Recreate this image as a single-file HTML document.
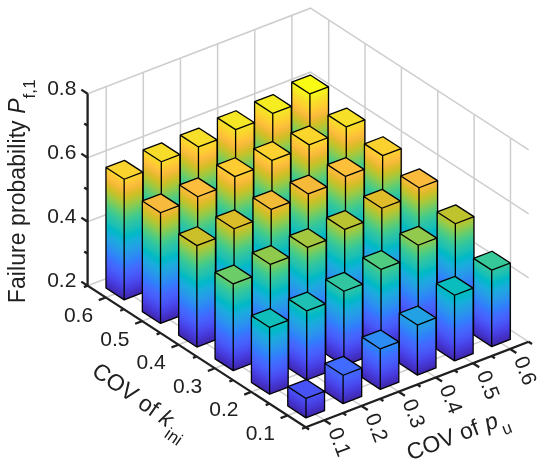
<!DOCTYPE html><html><head><meta charset="utf-8"><title>Failure probability</title><style>html,body{margin:0;padding:0;background:#fff}svg{display:block}</style></head><body><svg width="550" height="467" viewBox="0 0 550 467"><rect width="550" height="467" fill="#fff"/><defs><linearGradient id="pg" gradientUnits="userSpaceOnUse" x1="0" y1="0" x2="0" y2="-192"><stop offset="0" stop-color="#3e26a8"/><stop offset="0.02" stop-color="#422ebe"/><stop offset="0.04" stop-color="#4536d3"/><stop offset="0.06" stop-color="#473fe3"/><stop offset="0.08" stop-color="#484aee"/><stop offset="0.1" stop-color="#4854f6"/><stop offset="0.12" stop-color="#465ffb"/><stop offset="0.15" stop-color="#426afe"/><stop offset="0.17" stop-color="#3875fe"/><stop offset="0.19" stop-color="#2f81fa"/><stop offset="0.21" stop-color="#2d8bf4"/><stop offset="0.23" stop-color="#2995ec"/><stop offset="0.25" stop-color="#249ee6"/><stop offset="0.27" stop-color="#1fa6e1"/><stop offset="0.29" stop-color="#17aeda"/><stop offset="0.31" stop-color="#07b5cf"/><stop offset="0.33" stop-color="#02bac3"/><stop offset="0.35" stop-color="#17bfb6"/><stop offset="0.38" stop-color="#2ac3a9"/><stop offset="0.4" stop-color="#35c79a"/><stop offset="0.42" stop-color="#45cb89"/><stop offset="0.44" stop-color="#5ccc76"/><stop offset="0.46" stop-color="#75cc61"/><stop offset="0.48" stop-color="#91ca4c"/><stop offset="0.5" stop-color="#abc739"/><stop offset="0.52" stop-color="#c4c22b"/><stop offset="0.54" stop-color="#d9bd28"/><stop offset="0.56" stop-color="#ecba32"/><stop offset="0.58" stop-color="#fbbc3d"/><stop offset="0.6" stop-color="#fec636"/><stop offset="0.62" stop-color="#fcd12f"/><stop offset="0.65" stop-color="#f7dd2a"/><stop offset="0.67" stop-color="#f5e924"/><stop offset="0.69" stop-color="#f7f41c"/><stop offset="0.71" stop-color="#f9fb15"/><stop offset="0.73" stop-color="#f9fb15"/><stop offset="0.75" stop-color="#f9fb15"/><stop offset="0.77" stop-color="#f9fb15"/><stop offset="0.79" stop-color="#f9fb15"/><stop offset="0.81" stop-color="#f9fb15"/><stop offset="0.83" stop-color="#f9fb15"/><stop offset="0.85" stop-color="#f9fb15"/><stop offset="0.88" stop-color="#f9fb15"/><stop offset="0.9" stop-color="#f9fb15"/><stop offset="0.92" stop-color="#f9fb15"/><stop offset="0.94" stop-color="#f9fb15"/><stop offset="0.96" stop-color="#f9fb15"/><stop offset="0.98" stop-color="#f9fb15"/><stop offset="1" stop-color="#f9fb15"/></linearGradient></defs><path d="M324.33,420.18L106.17,278.57L106.17,86.57M361.49,405.93L143.32,264.32L143.32,72.32M398.63,391.68L180.47,250.07L180.47,58.07M435.78,377.43L217.62,235.82L217.62,43.82M472.93,363.18L254.77,221.57L254.77,29.57M510.08,348.93L291.92,207.32L291.92,15.32M105.78,297.5L328.68,212L328.68,20M142.14,321.1L365.04,235.6L365.04,43.6M178.5,344.7L401.4,259.2L401.4,67.2M214.86,368.3L437.76,282.8L437.76,90.8M251.22,391.9L474.12,306.4L474.12,114.4M287.58,415.5L510.48,330L510.48,138M87.6,285.7L310.5,200.2L528.66,341.8M87.6,221.7L310.5,136.2L528.66,277.8M87.6,157.7L310.5,72.2L528.66,213.8M87.6,93.7L310.5,8.2L528.66,149.8" fill="none" stroke="#cecece" stroke-width="1.5"/><g stroke="#000" stroke-width="1.3" stroke-linejoin="round"><rect y="-134.62" width="18.18" height="134.62" transform="matrix(1,0.6491,0,1,291.73,216.79)" fill="url(#pg)" stroke="none"/><rect y="-134.62" width="18.57" height="134.62" transform="matrix(1,-0.3836,0,1,309.91,228.59)" fill="url(#pg)" stroke="none"/><path d="M291.73,82.16L309.91,93.96L328.48,86.84L310.3,75.04Z" fill="#f9fb15" stroke="none"/><path d="M291.73,82.16L291.73,216.79L309.91,228.59L328.48,221.46L328.48,86.84L310.3,75.04ZM291.73,82.16L309.91,93.96L328.48,86.84M309.91,93.96L309.91,228.59" fill="none"/><rect y="-129.37" width="18.18" height="129.37" transform="matrix(1,0.6491,0,1,254.58,231.04)" fill="url(#pg)" stroke="none"/><rect y="-129.37" width="18.57" height="129.37" transform="matrix(1,-0.3836,0,1,272.76,242.84)" fill="url(#pg)" stroke="none"/><path d="M254.58,101.66L272.76,113.46L291.33,106.34L273.15,94.54Z" fill="#f5ed22" stroke="none"/><path d="M254.58,101.66L254.58,231.04L272.76,242.84L291.33,235.71L291.33,106.34L273.15,94.54ZM254.58,101.66L272.76,113.46L291.33,106.34M272.76,113.46L272.76,242.84" fill="none"/><rect y="-125.22" width="18.18" height="125.22" transform="matrix(1,0.6491,0,1,328.09,240.39)" fill="url(#pg)" stroke="none"/><rect y="-125.22" width="18.57" height="125.22" transform="matrix(1,-0.3836,0,1,346.27,252.19)" fill="url(#pg)" stroke="none"/><path d="M328.09,115.16L346.27,126.96L364.84,119.84L346.66,108.04Z" fill="#f6e128" stroke="none"/><path d="M328.09,115.16L328.09,240.39L346.27,252.19L364.84,245.06L364.84,119.84L346.66,108.04ZM328.09,115.16L346.27,126.96L364.84,119.84M346.27,126.96L346.27,252.19" fill="none"/><rect y="-127.42" width="18.18" height="127.42" transform="matrix(1,0.6491,0,1,217.43,245.29)" fill="url(#pg)" stroke="none"/><rect y="-127.42" width="18.58" height="127.42" transform="matrix(1,-0.3836,0,1,235.61,257.09)" fill="url(#pg)" stroke="none"/><path d="M217.43,117.86L235.61,129.66L254.18,122.54L236,110.74Z" fill="#f5e725" stroke="none"/><path d="M217.43,117.86L217.43,245.29L235.61,257.09L254.18,249.96L254.18,122.54L236,110.74ZM217.43,117.86L235.61,129.66L254.18,122.54M235.61,129.66L235.61,257.09" fill="none"/><rect y="-121.58" width="18.18" height="121.58" transform="matrix(1,0.6491,0,1,290.94,254.64)" fill="url(#pg)" stroke="none"/><rect y="-121.58" width="18.58" height="121.58" transform="matrix(1,-0.3836,0,1,309.12,266.44)" fill="url(#pg)" stroke="none"/><path d="M290.94,133.06L309.12,144.86L327.69,137.74L309.51,125.94Z" fill="#fad62d" stroke="none"/><path d="M290.94,133.06L290.94,254.64L309.12,266.44L327.69,259.31L327.69,137.74L309.51,125.94ZM290.94,133.06L309.12,144.86L327.69,137.74M309.12,144.86L309.12,266.44" fill="none"/><rect y="-120.13" width="18.18" height="120.13" transform="matrix(1,0.6491,0,1,364.45,263.99)" fill="url(#pg)" stroke="none"/><rect y="-120.13" width="18.57" height="120.13" transform="matrix(1,-0.3836,0,1,382.63,275.79)" fill="url(#pg)" stroke="none"/><path d="M364.45,143.86L382.63,155.66L401.2,148.54L383.02,136.74Z" fill="#fbd12f" stroke="none"/><path d="M364.45,143.86L364.45,263.99L382.63,275.79L401.2,268.66L401.2,148.54L383.02,136.74ZM364.45,143.86L382.63,155.66L401.2,148.54M382.63,155.66L382.63,275.79" fill="none"/><rect y="-124.37" width="18.18" height="124.37" transform="matrix(1,0.6491,0,1,180.28,259.54)" fill="url(#pg)" stroke="none"/><rect y="-124.37" width="18.57" height="124.37" transform="matrix(1,-0.3836,0,1,198.46,271.34)" fill="url(#pg)" stroke="none"/><path d="M180.28,135.16L198.46,146.96L217.03,139.84L198.85,128.04Z" fill="#f6de29" stroke="none"/><path d="M180.28,135.16L180.28,259.54L198.46,271.34L217.03,264.21L217.03,139.84L198.85,128.04ZM180.28,135.16L198.46,146.96L217.03,139.84M198.46,146.96L198.46,271.34" fill="none"/><rect y="-120.23" width="18.18" height="120.23" transform="matrix(1,0.6491,0,1,253.79,268.89)" fill="url(#pg)" stroke="none"/><rect y="-120.23" width="18.58" height="120.23" transform="matrix(1,-0.3836,0,1,271.97,280.69)" fill="url(#pg)" stroke="none"/><path d="M253.79,148.66L271.97,160.46L290.54,153.34L272.36,141.54Z" fill="#fbd22f" stroke="none"/><path d="M253.79,148.66L253.79,268.89L271.97,280.69L290.54,273.56L290.54,153.34L272.36,141.54ZM253.79,148.66L271.97,160.46L290.54,153.34M271.97,160.46L271.97,280.69" fill="none"/><rect y="-113.58" width="18.18" height="113.58" transform="matrix(1,0.6491,0,1,327.3,278.24)" fill="url(#pg)" stroke="none"/><rect y="-113.58" width="18.58" height="113.58" transform="matrix(1,-0.3836,0,1,345.48,290.04)" fill="url(#pg)" stroke="none"/><path d="M327.3,164.66L345.48,176.46L364.05,169.34L345.87,157.54Z" fill="#febf3b" stroke="none"/><path d="M327.3,164.66L327.3,278.24L345.48,290.04L364.05,282.91L364.05,169.34L345.87,157.54ZM327.3,164.66L345.48,176.46L364.05,169.34M345.48,176.46L345.48,290.04" fill="none"/><rect y="-111.62" width="18.18" height="111.62" transform="matrix(1,0.6491,0,1,400.81,287.59)" fill="url(#pg)" stroke="none"/><rect y="-111.62" width="18.58" height="111.62" transform="matrix(1,-0.3836,0,1,418.99,299.39)" fill="url(#pg)" stroke="none"/><path d="M400.81,175.96L418.99,187.76L437.56,180.64L419.38,168.84Z" fill="#fabb3d" stroke="none"/><path d="M400.81,175.96L400.81,287.59L418.99,299.39L437.56,292.26L437.56,180.64L419.38,168.84ZM400.81,175.96L418.99,187.76L437.56,180.64M418.99,187.76L418.99,299.39" fill="none"/><rect y="-123.82" width="18.18" height="123.82" transform="matrix(1,0.6491,0,1,143.13,273.79)" fill="url(#pg)" stroke="none"/><rect y="-123.82" width="18.58" height="123.82" transform="matrix(1,-0.3836,0,1,161.31,285.59)" fill="url(#pg)" stroke="none"/><path d="M143.13,149.96L161.31,161.76L179.88,154.64L161.7,142.84Z" fill="#f7dd2a" stroke="none"/><path d="M143.13,149.96L143.13,273.79L161.31,285.59L179.88,278.46L179.88,154.64L161.7,142.84ZM143.13,149.96L161.31,161.76L179.88,154.64M161.31,161.76L161.31,285.59" fill="none"/><rect y="-118.28" width="18.18" height="118.28" transform="matrix(1,0.6491,0,1,216.64,283.14)" fill="url(#pg)" stroke="none"/><rect y="-118.28" width="18.57" height="118.28" transform="matrix(1,-0.3836,0,1,234.82,294.94)" fill="url(#pg)" stroke="none"/><path d="M216.64,164.86L234.82,176.66L253.39,169.54L235.21,157.74Z" fill="#fdcc32" stroke="none"/><path d="M216.64,164.86L216.64,283.14L234.82,294.94L253.39,287.81L253.39,169.54L235.21,157.74ZM216.64,164.86L234.82,176.66L253.39,169.54M234.82,176.66L234.82,294.94" fill="none"/><rect y="-110.32" width="18.18" height="110.32" transform="matrix(1,0.6491,0,1,290.15,292.49)" fill="url(#pg)" stroke="none"/><rect y="-110.32" width="18.57" height="110.32" transform="matrix(1,-0.3836,0,1,308.33,304.29)" fill="url(#pg)" stroke="none"/><path d="M290.15,182.16L308.33,193.96L326.9,186.84L308.72,175.04Z" fill="#f6ba3b" stroke="none"/><path d="M290.15,182.16L290.15,292.49L308.33,304.29L326.9,297.16L326.9,186.84L308.72,175.04ZM290.15,182.16L308.33,193.96L326.9,186.84M308.33,193.96L308.33,304.29" fill="none"/><rect y="-105.38" width="18.18" height="105.38" transform="matrix(1,0.6491,0,1,363.66,301.84)" fill="url(#pg)" stroke="none"/><rect y="-105.38" width="18.58" height="105.38" transform="matrix(1,-0.3836,0,1,381.84,313.64)" fill="url(#pg)" stroke="none"/><path d="M363.66,196.46L381.84,208.26L400.41,201.14L382.23,189.34Z" fill="#e0bc2a" stroke="none"/><path d="M363.66,196.46L363.66,301.84L381.84,313.64L400.41,306.51L400.41,201.14L382.23,189.34ZM363.66,196.46L381.84,208.26L400.41,201.14M381.84,208.26L381.84,313.64" fill="none"/><rect y="-99.22" width="18.18" height="99.22" transform="matrix(1,0.6491,0,1,437.17,311.19)" fill="url(#pg)" stroke="none"/><rect y="-99.22" width="18.58" height="99.22" transform="matrix(1,-0.3836,0,1,455.35,322.99)" fill="url(#pg)" stroke="none"/><path d="M437.17,211.96L455.35,223.76L473.92,216.64L455.74,204.84Z" fill="#bfc32d" stroke="none"/><path d="M437.17,211.96L437.17,311.19L455.35,322.99L473.92,315.86L473.92,216.64L455.74,204.84ZM437.17,211.96L455.35,223.76L473.92,216.64M455.35,223.76L455.35,322.99" fill="none"/><rect y="-120.57" width="18.18" height="120.57" transform="matrix(1,0.6491,0,1,105.98,288.04)" fill="url(#pg)" stroke="none"/><rect y="-120.57" width="18.58" height="120.57" transform="matrix(1,-0.3836,0,1,124.16,299.84)" fill="url(#pg)" stroke="none"/><path d="M105.98,167.46L124.16,179.26L142.73,172.14L124.55,160.34Z" fill="#fbd32e" stroke="none"/><path d="M105.98,167.46L105.98,288.04L124.16,299.84L142.73,292.71L142.73,172.14L124.55,160.34ZM105.98,167.46L124.16,179.26L142.73,172.14M124.16,179.26L124.16,299.84" fill="none"/><rect y="-112.43" width="18.18" height="112.43" transform="matrix(1,0.6491,0,1,179.49,297.39)" fill="url(#pg)" stroke="none"/><rect y="-112.43" width="18.58" height="112.43" transform="matrix(1,-0.3836,0,1,197.67,309.19)" fill="url(#pg)" stroke="none"/><path d="M179.49,184.96L197.67,196.76L216.24,189.64L198.06,177.84Z" fill="#fcbd3d" stroke="none"/><path d="M179.49,184.96L179.49,297.39L197.67,309.19L216.24,302.06L216.24,189.64L198.06,177.84ZM179.49,184.96L197.67,196.76L216.24,189.64M197.67,196.76L197.67,309.19" fill="none"/><rect y="-109.07" width="18.18" height="109.07" transform="matrix(1,0.6491,0,1,253,306.74)" fill="url(#pg)" stroke="none"/><rect y="-109.07" width="18.57" height="109.07" transform="matrix(1,-0.3836,0,1,271.18,318.54)" fill="url(#pg)" stroke="none"/><path d="M253,197.66L271.18,209.46L289.75,202.34L271.57,190.54Z" fill="#f1ba37" stroke="none"/><path d="M253,197.66L253,306.74L271.18,318.54L289.75,311.41L289.75,202.34L271.57,190.54ZM253,197.66L271.18,209.46L289.75,202.34M271.18,209.46L271.18,318.54" fill="none"/><rect y="-98.42" width="18.18" height="98.42" transform="matrix(1,0.6491,0,1,326.51,316.09)" fill="url(#pg)" stroke="none"/><rect y="-98.42" width="18.57" height="98.42" transform="matrix(1,-0.3836,0,1,344.69,327.89)" fill="url(#pg)" stroke="none"/><path d="M326.51,217.66L344.69,229.46L363.26,222.34L345.08,210.54Z" fill="#bac430" stroke="none"/><path d="M326.51,217.66L326.51,316.09L344.69,327.89L363.26,320.76L363.26,222.34L345.08,210.54ZM326.51,217.66L344.69,229.46L363.26,222.34M344.69,229.46L344.69,327.89" fill="none"/><rect y="-91.97" width="18.18" height="91.97" transform="matrix(1,0.6491,0,1,400.02,325.44)" fill="url(#pg)" stroke="none"/><rect y="-91.97" width="18.58" height="91.97" transform="matrix(1,-0.3836,0,1,418.2,337.24)" fill="url(#pg)" stroke="none"/><path d="M400.02,233.46L418.2,245.26L436.77,238.14L418.59,226.34Z" fill="#91ca4c" stroke="none"/><path d="M400.02,233.46L400.02,325.44L418.2,337.24L436.77,330.11L436.77,238.14L418.59,226.34ZM400.02,233.46L418.2,245.26L436.77,238.14M418.2,245.26L418.2,337.24" fill="none"/><rect y="-76.42" width="18.18" height="76.42" transform="matrix(1,0.6491,0,1,473.53,334.79)" fill="url(#pg)" stroke="none"/><rect y="-76.42" width="18.57" height="76.42" transform="matrix(1,-0.3836,0,1,491.71,346.59)" fill="url(#pg)" stroke="none"/><path d="M473.53,258.36L491.71,270.16L510.28,263.04L492.1,251.24Z" fill="#36c899" stroke="none"/><path d="M473.53,258.36L473.53,334.79L491.71,346.59L510.28,339.46L510.28,263.04L492.1,251.24ZM473.53,258.36L491.71,270.16L510.28,263.04M491.71,270.16L491.71,346.59" fill="none"/><rect y="-110.68" width="18.18" height="110.68" transform="matrix(1,0.6491,0,1,142.34,311.64)" fill="url(#pg)" stroke="none"/><rect y="-110.68" width="18.57" height="110.68" transform="matrix(1,-0.3836,0,1,160.52,323.44)" fill="url(#pg)" stroke="none"/><path d="M142.34,200.96L160.52,212.76L179.09,205.64L160.91,193.84Z" fill="#f7ba3c" stroke="none"/><path d="M142.34,200.96L142.34,311.64L160.52,323.44L179.09,316.31L179.09,205.64L160.91,193.84ZM142.34,200.96L160.52,212.76L179.09,205.64M160.52,212.76L160.52,323.44" fill="none"/><rect y="-104.02" width="18.18" height="104.02" transform="matrix(1,0.6491,0,1,215.85,320.99)" fill="url(#pg)" stroke="none"/><rect y="-104.02" width="18.58" height="104.02" transform="matrix(1,-0.3836,0,1,234.03,332.79)" fill="url(#pg)" stroke="none"/><path d="M215.85,216.96L234.03,228.76L252.6,221.64L234.42,209.84Z" fill="#dabd28" stroke="none"/><path d="M215.85,216.96L215.85,320.99L234.03,332.79L252.6,325.66L252.6,221.64L234.42,209.84ZM215.85,216.96L234.03,228.76L252.6,221.64M234.03,228.76L234.03,332.79" fill="none"/><rect y="-94.68" width="18.18" height="94.68" transform="matrix(1,0.6491,0,1,289.36,330.34)" fill="url(#pg)" stroke="none"/><rect y="-94.68" width="18.57" height="94.68" transform="matrix(1,-0.3836,0,1,307.54,342.14)" fill="url(#pg)" stroke="none"/><path d="M289.36,235.66L307.54,247.46L326.11,240.34L307.93,228.54Z" fill="#a3c83f" stroke="none"/><path d="M289.36,235.66L289.36,330.34L307.54,342.14L326.11,335.01L326.11,240.34L307.93,228.54ZM289.36,235.66L307.54,247.46L326.11,240.34M307.54,247.46L307.54,342.14" fill="none"/><rect y="-82.02" width="18.18" height="82.02" transform="matrix(1,0.6491,0,1,362.87,339.69)" fill="url(#pg)" stroke="none"/><rect y="-82.02" width="18.57" height="82.02" transform="matrix(1,-0.3836,0,1,381.05,351.49)" fill="url(#pg)" stroke="none"/><path d="M362.87,257.66L381.05,269.46L399.62,262.34L381.44,250.54Z" fill="#50cc80" stroke="none"/><path d="M362.87,257.66L362.87,339.69L381.05,351.49L399.62,344.36L399.62,262.34L381.44,250.54ZM362.87,257.66L381.05,269.46L399.62,262.34M381.05,269.46L381.05,351.49" fill="none"/><rect y="-65.57" width="18.18" height="65.57" transform="matrix(1,0.6491,0,1,436.38,349.04)" fill="url(#pg)" stroke="none"/><rect y="-65.57" width="18.57" height="65.57" transform="matrix(1,-0.3836,0,1,454.56,360.84)" fill="url(#pg)" stroke="none"/><path d="M436.38,283.46L454.56,295.26L473.13,288.14L454.95,276.34Z" fill="#09bcbe" stroke="none"/><path d="M436.38,283.46L436.38,349.04L454.56,360.84L473.13,353.71L473.13,288.14L454.95,276.34ZM436.38,283.46L454.56,295.26L473.13,288.14M454.56,295.26L454.56,360.84" fill="none"/><rect y="-101.38" width="18.18" height="101.38" transform="matrix(1,0.6491,0,1,178.7,335.24)" fill="url(#pg)" stroke="none"/><rect y="-101.38" width="18.57" height="101.38" transform="matrix(1,-0.3836,0,1,196.88,347.04)" fill="url(#pg)" stroke="none"/><path d="M178.7,233.86L196.88,245.66L215.45,238.54L197.27,226.74Z" fill="#cbc029" stroke="none"/><path d="M178.7,233.86L178.7,335.24L196.88,347.04L215.45,339.91L215.45,238.54L197.27,226.74ZM178.7,233.86L196.88,245.66L215.45,238.54M196.88,245.66L196.88,347.04" fill="none"/><rect y="-91.93" width="18.18" height="91.93" transform="matrix(1,0.6491,0,1,252.21,344.59)" fill="url(#pg)" stroke="none"/><rect y="-91.93" width="18.57" height="91.93" transform="matrix(1,-0.3836,0,1,270.39,356.39)" fill="url(#pg)" stroke="none"/><path d="M252.21,252.66L270.39,264.46L288.96,257.34L270.78,245.54Z" fill="#90ca4d" stroke="none"/><path d="M252.21,252.66L252.21,344.59L270.39,356.39L288.96,349.26L288.96,257.34L270.78,245.54ZM252.21,252.66L270.39,264.46L288.96,257.34M270.39,264.46L270.39,356.39" fill="none"/><rect y="-74.47" width="18.18" height="74.47" transform="matrix(1,0.6491,0,1,325.72,353.94)" fill="url(#pg)" stroke="none"/><rect y="-74.47" width="18.57" height="74.47" transform="matrix(1,-0.3836,0,1,343.9,365.74)" fill="url(#pg)" stroke="none"/><path d="M325.72,279.46L343.9,291.26L362.47,284.14L344.29,272.34Z" fill="#31c6a0" stroke="none"/><path d="M325.72,279.46L325.72,353.94L343.9,365.74L362.47,358.61L362.47,284.14L344.29,272.34ZM325.72,279.46L343.9,291.26L362.47,284.14M343.9,291.26L343.9,365.74" fill="none"/><rect y="-50.02" width="18.18" height="50.02" transform="matrix(1,0.6491,0,1,399.23,363.29)" fill="url(#pg)" stroke="none"/><rect y="-50.02" width="18.57" height="50.02" transform="matrix(1,-0.3836,0,1,417.41,375.09)" fill="url(#pg)" stroke="none"/><path d="M399.23,313.26L417.41,325.06L435.98,317.94L417.8,306.14Z" fill="#22a2e4" stroke="none"/><path d="M399.23,313.26L399.23,363.29L417.41,375.09L435.98,367.96L435.98,317.94L417.8,306.14ZM399.23,313.26L417.41,325.06L435.98,317.94M417.41,325.06L417.41,375.09" fill="none"/><rect y="-86.68" width="18.18" height="86.68" transform="matrix(1,0.6491,0,1,215.06,358.84)" fill="url(#pg)" stroke="none"/><rect y="-86.68" width="18.58" height="86.68" transform="matrix(1,-0.3836,0,1,233.24,370.64)" fill="url(#pg)" stroke="none"/><path d="M215.06,272.16L233.24,283.96L251.81,276.84L233.63,265.04Z" fill="#6ccd68" stroke="none"/><path d="M215.06,272.16L215.06,358.84L233.24,370.64L251.81,363.51L251.81,276.84L233.63,265.04ZM215.06,272.16L233.24,283.96L251.81,276.84M233.24,283.96L233.24,370.64" fill="none"/><rect y="-69.02" width="18.18" height="69.02" transform="matrix(1,0.6491,0,1,288.57,368.19)" fill="url(#pg)" stroke="none"/><rect y="-69.02" width="18.57" height="69.02" transform="matrix(1,-0.3836,0,1,306.75,379.99)" fill="url(#pg)" stroke="none"/><path d="M288.57,299.16L306.75,310.96L325.32,303.84L307.14,292.04Z" fill="#1dc0b3" stroke="none"/><path d="M288.57,299.16L288.57,368.19L306.75,379.99L325.32,372.86L325.32,303.84L307.14,292.04ZM288.57,299.16L306.75,310.96L325.32,303.84M306.75,310.96L306.75,379.99" fill="none"/><rect y="-40.38" width="18.18" height="40.38" transform="matrix(1,0.6491,0,1,362.08,377.54)" fill="url(#pg)" stroke="none"/><rect y="-40.38" width="18.57" height="40.38" transform="matrix(1,-0.3836,0,1,380.26,389.34)" fill="url(#pg)" stroke="none"/><path d="M362.08,337.16L380.26,348.96L398.83,341.84L380.65,330.04Z" fill="#2d8cf3" stroke="none"/><path d="M362.08,337.16L362.08,377.54L380.26,389.34L398.83,382.21L398.83,341.84L380.65,330.04ZM362.08,337.16L380.26,348.96L398.83,341.84M380.26,348.96L380.26,389.34" fill="none"/><rect y="-66.77" width="18.18" height="66.77" transform="matrix(1,0.6491,0,1,251.42,382.44)" fill="url(#pg)" stroke="none"/><rect y="-66.77" width="18.58" height="66.77" transform="matrix(1,-0.3836,0,1,269.6,394.24)" fill="url(#pg)" stroke="none"/><path d="M251.42,315.66L269.6,327.46L288.17,320.34L269.99,308.54Z" fill="#0fbeba" stroke="none"/><path d="M251.42,315.66L251.42,382.44L269.6,394.24L288.17,387.11L288.17,320.34L269.99,308.54ZM251.42,315.66L269.6,327.46L288.17,320.34M269.6,327.46L269.6,394.24" fill="none"/><rect y="-28.32" width="18.18" height="28.32" transform="matrix(1,0.6491,0,1,324.93,391.79)" fill="url(#pg)" stroke="none"/><rect y="-28.32" width="18.58" height="28.32" transform="matrix(1,-0.3836,0,1,343.11,403.59)" fill="url(#pg)" stroke="none"/><path d="M324.93,363.46L343.11,375.26L361.68,368.14L343.5,356.34Z" fill="#416bfe" stroke="none"/><path d="M324.93,363.46L324.93,391.79L343.11,403.59L361.68,396.46L361.68,368.14L343.5,356.34ZM324.93,363.46L343.11,375.26L361.68,368.14M343.11,375.26L343.11,403.59" fill="none"/><rect y="-19.38" width="18.18" height="19.38" transform="matrix(1,0.6491,0,1,287.78,406.04)" fill="url(#pg)" stroke="none"/><rect y="-19.38" width="18.57" height="19.38" transform="matrix(1,-0.3836,0,1,305.96,417.84)" fill="url(#pg)" stroke="none"/><path d="M287.78,386.66L305.96,398.46L324.53,391.34L306.35,379.54Z" fill="#4853f5" stroke="none"/><path d="M287.78,386.66L287.78,406.04L305.96,417.84L324.53,410.71L324.53,391.34L306.35,379.54ZM287.78,386.66L305.96,398.46L324.53,391.34M305.96,398.46L305.96,417.84" fill="none"/></g><path d="M87.6,93.7L87.6,285.7L305.76,427.3L528.66,341.8M87.6,285.7l-6.29,-4.08M87.6,253.7l-3.36,-2.18M87.6,221.7l-6.29,-4.08M87.6,189.7l-3.36,-2.18M87.6,157.7l-6.29,-4.08M87.6,125.7l-3.36,-2.18M87.6,93.7l-6.29,-4.08M87.6,285.7l-3.73,1.43M105.78,297.5l-7,2.69M123.96,309.3l-3.73,1.43M142.14,321.1l-7,2.69M160.32,332.9l-3.73,1.43M178.5,344.7l-7,2.69M196.68,356.5l-3.73,1.43M214.86,368.3l-7,2.69M233.04,380.1l-3.73,1.43M251.22,391.9l-7,2.69M269.4,403.7l-3.73,1.43M287.58,415.5l-7,2.69M305.76,427.3l-3.73,1.43M305.76,427.3l3.36,2.18M324.33,420.18l6.29,4.08M342.91,413.05l3.36,2.18M361.49,405.93l6.29,4.08M380.06,398.8l3.36,2.18M398.63,391.68l6.29,4.08M417.21,384.55l3.36,2.18M435.78,377.43l6.29,4.08M454.36,370.3l3.36,2.18M472.93,363.18l6.29,4.08M491.51,356.05l3.36,2.18M510.08,348.93l6.29,4.08M528.66,341.8l3.36,2.18" fill="none" stroke="#202020" stroke-width="2.3" stroke-linejoin="miter"/><g font-family="'Liberation Sans',Arial,sans-serif" font-size="21" fill="#202020"><text x="76.4" y="286.8" text-anchor="end">0.2</text><text x="76.4" y="222.8" text-anchor="end">0.4</text><text x="76.4" y="158.8" text-anchor="end">0.6</text><text x="76.4" y="94.8" text-anchor="end">0.8</text><text x="93.08" y="322" text-anchor="end">0.6</text><text x="129.44" y="345.6" text-anchor="end">0.5</text><text x="165.8" y="369.2" text-anchor="end">0.4</text><text x="202.16" y="392.8" text-anchor="end">0.3</text><text x="238.52" y="416.4" text-anchor="end">0.2</text><text x="274.88" y="440" text-anchor="end">0.1</text><text transform="translate(327.9,430.63) rotate(69)">0.1</text><text transform="translate(365.05,416.38) rotate(69)">0.2</text><text transform="translate(402.2,402.13) rotate(69)">0.3</text><text transform="translate(439.35,387.88) rotate(69)">0.4</text><text transform="translate(476.5,373.63) rotate(69)">0.5</text><text transform="translate(513.65,359.38) rotate(69)">0.6</text><text transform="translate(25.1,303.2) rotate(-90)" font-size="23" letter-spacing="0.07">Failure probability <tspan font-style="italic">P</tspan><tspan font-size="17" dy="10">f,1</tspan></text><text transform="translate(90.5,374.2) rotate(35)" font-size="23">COV of <tspan font-style="italic">k</tspan><tspan font-size="17" dx="2.1" dy="9.2">ini</tspan></text><text transform="translate(410.2,460.7) rotate(-21)" font-size="23">COV of <tspan font-style="italic" dx="1.3">p</tspan><tspan font-size="17" dx="1.2" dy="10">u</tspan></text></g></svg></body></html>
